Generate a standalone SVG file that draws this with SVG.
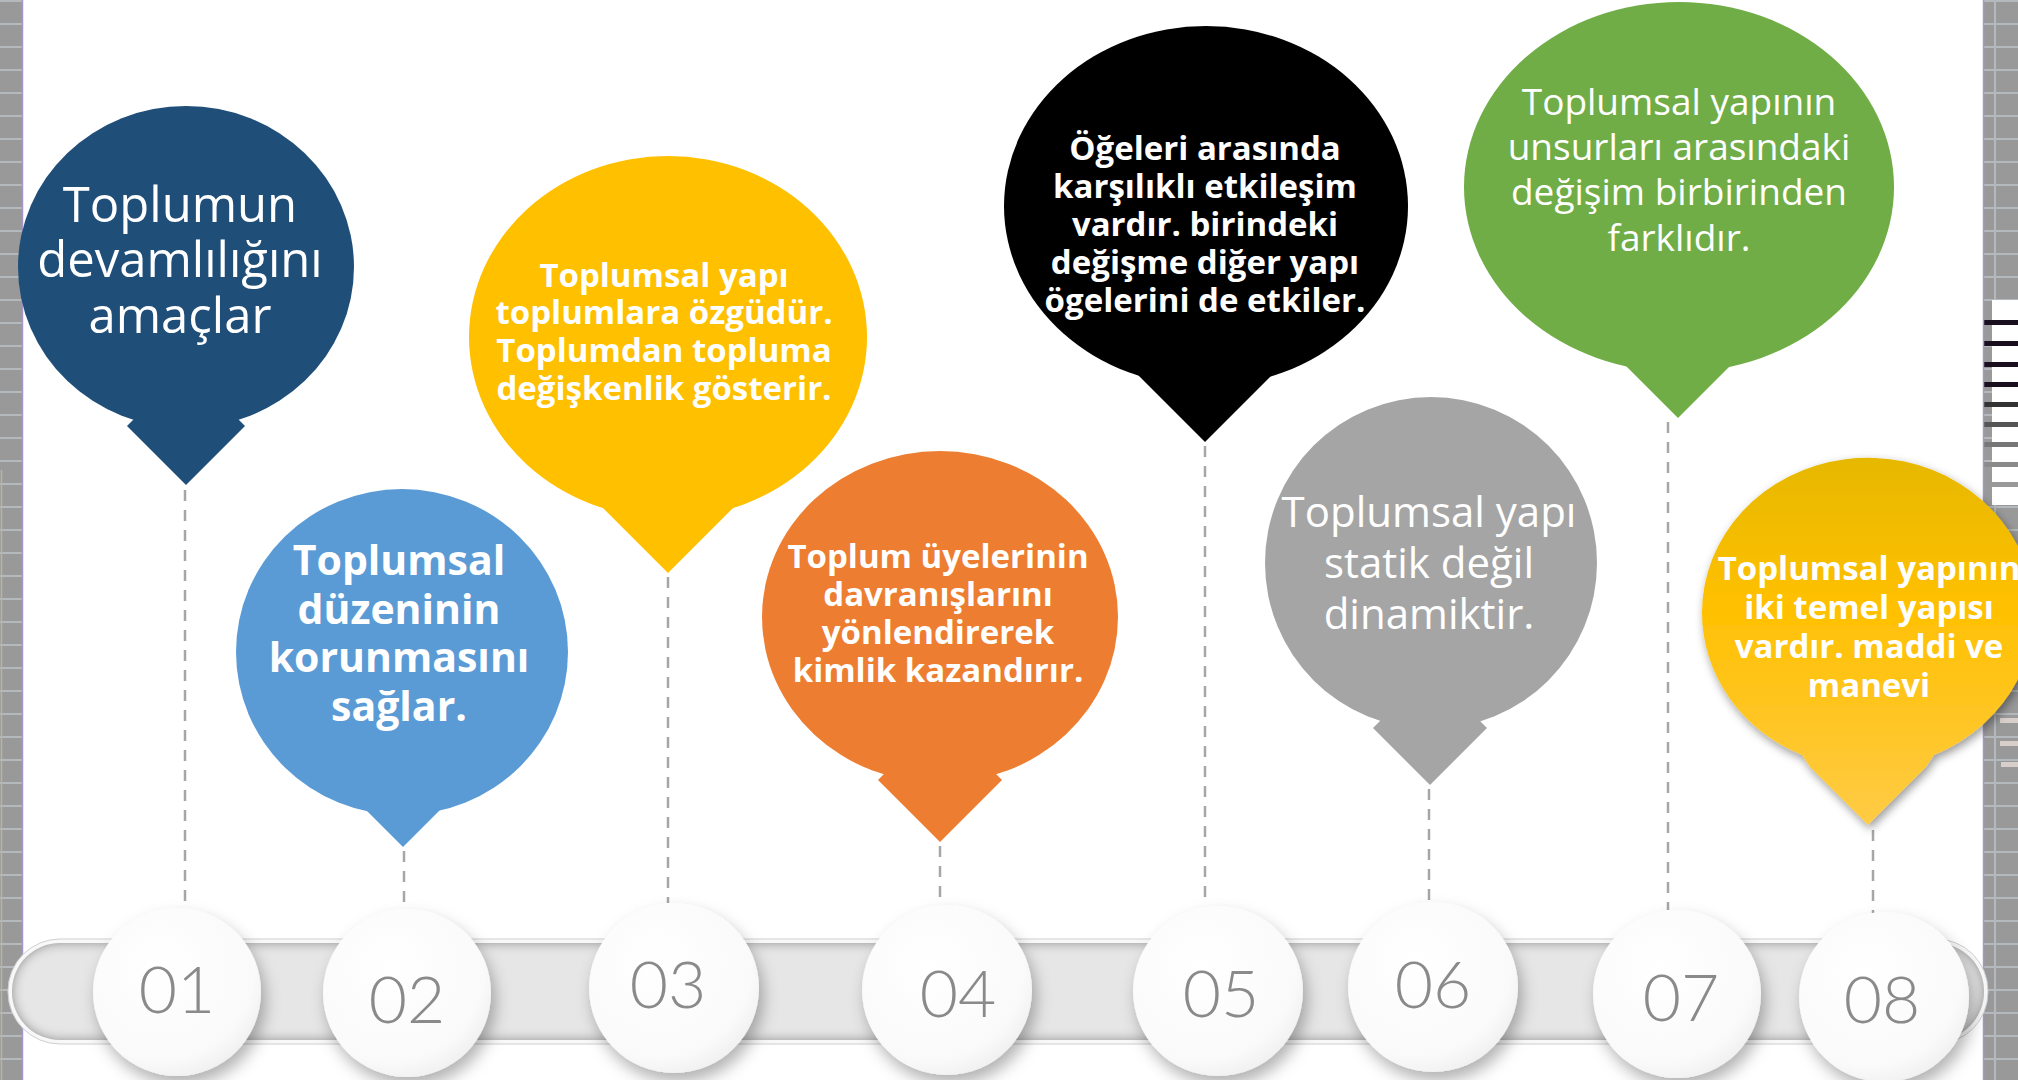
<svg xmlns="http://www.w3.org/2000/svg" width="2018" height="1080" viewBox="0 0 2018 1080">
<defs>
<style>
.t{font-family:"Open Sans","Noto Sans",sans-serif;fill:#fff;text-anchor:middle}
.r{font-weight:400}
.b{font-weight:700}
.num{font-family:"Lato","Open Sans",sans-serif;font-weight:300;fill:#8A8A8A;font-size:66px;text-anchor:middle}
.dash{stroke:#A6A6A6;stroke-width:2.5;stroke-dasharray:11 9;fill:none}
.disc{fill:url(#discG);filter:url(#ds)}
</style>
<pattern id="gridL" width="22" height="23" patternUnits="userSpaceOnUse">
<rect width="22" height="23" fill="#999999"/>
<rect y="0" width="22" height="2" fill="#B3B9BC"/>
</pattern>
<pattern id="gridR" x="1983" width="35" height="23" patternUnits="userSpaceOnUse">
<rect width="35" height="23" fill="#999999"/>
<rect y="0" width="35" height="2" fill="#B3B9BC"/>
<rect x="11" y="0" width="2" height="23" fill="#B3B9BC"/>
</pattern>
<linearGradient id="gold" gradientUnits="userSpaceOnUse" x1="0" y1="458" x2="0" y2="825">
<stop offset="0" stop-color="#E6B800"/>
<stop offset="0.4" stop-color="#FFC000"/>
<stop offset="1" stop-color="#FFCB45"/>
</linearGradient>
<radialGradient id="discG" cx="0.4" cy="0.35" r="0.7">
<stop offset="0" stop-color="#FFFFFF"/>
<stop offset="0.8" stop-color="#FAFAFA"/>
<stop offset="1" stop-color="#EFEFEF"/>
</radialGradient>
<filter id="ds" x="-30%" y="-30%" width="170%" height="170%">
<feDropShadow dx="4" dy="9" stdDeviation="8" flood-color="#000" flood-opacity="0.3"/>
</filter>
<filter id="ds8" x="-20%" y="-20%" width="150%" height="150%">
<feDropShadow dx="2" dy="4" stdDeviation="5" flood-color="#000" flood-opacity="0.4"/>
</filter>
<filter id="inner" x="-5%" y="-20%" width="110%" height="140%">
<feFlood flood-color="#000" flood-opacity="0.75"/>
<feComposite in2="SourceAlpha" operator="out"/>
<feGaussianBlur stdDeviation="6"/>
<feComposite in2="SourceAlpha" operator="in" result="sh"/>
<feMerge><feMergeNode in="SourceGraphic"/><feMergeNode in="sh"/></feMerge>
</filter>
</defs>

<rect width="2018" height="1080" fill="#FFFFFF"/>

<g id="left-strip">
<rect x="0" y="0" width="22" height="1080" fill="url(#gridL)"/>
<line x1="22.5" y1="0" x2="22.5" y2="1080" stroke="#A797C9" stroke-width="1.5"/>
<line x1="1.5" y1="470" x2="1.5" y2="1080" stroke="#BDB59A" stroke-width="1.5"/>
</g>

<g id="right-strip">
<rect x="1983" y="0" width="35" height="1080" fill="url(#gridR)"/>
<rect x="1992" y="300" width="26" height="205" fill="#FFFFFF"/>
<g fill="#1A0F1F">
<rect x="1983" y="320" width="35" height="5"/>
<rect x="1983" y="341" width="35" height="5"/>
<rect x="1983" y="362" width="35" height="5"/>
<rect x="1983" y="382" width="35" height="5"/>
<rect x="1983" y="402" width="35" height="5" fill="#333"/>
<rect x="1983" y="422" width="35" height="5" fill="#555"/>
<rect x="1983" y="442" width="35" height="5" fill="#777"/>
<rect x="1983" y="462" width="35" height="5" fill="#8A8A8A"/>
<rect x="1983" y="482" width="35" height="5" fill="#999"/>
</g>
<g fill="#D8CFCB">
<rect x="2000" y="718" width="18" height="5"/>
<rect x="2000" y="741" width="18" height="5"/>
<rect x="2001" y="762" width="17" height="5"/>
</g>
<line x1="1983.5" y1="0" x2="1983.5" y2="1080" stroke="#A797C9" stroke-width="1.5"/>
</g>

<g id="connectors">
<line class="dash" x1="185" y1="490" x2="185" y2="905"/>
<line class="dash" x1="404" y1="851" x2="404" y2="907"/>
<line class="dash" x1="668" y1="577" x2="668" y2="903"/>
<line class="dash" x1="940" y1="846" x2="940" y2="905"/>
<line class="dash" x1="1205" y1="446" x2="1205" y2="905"/>
<line class="dash" x1="1429" y1="789" x2="1429" y2="903"/>
<line class="dash" x1="1668" y1="422" x2="1668" y2="910"/>
<line class="dash" x1="1873" y1="830" x2="1873" y2="913"/>
</g>

<g id="timeline-bar">
<rect x="8" y="939" width="1980" height="105" rx="52" fill="#F8F8F8" stroke="#CFCFCF" stroke-width="1"/>
<rect x="12" y="943" width="1972" height="97" rx="48" fill="#E6E6E6" filter="url(#inner)"/>
</g>

<g id="bubble-1">
<ellipse cx="186" cy="267" rx="168" ry="161" fill="#1F4E79"/>
<polygon points="186,367 245,426 186,485 127,426" fill="#1F4E79"/>
<text class="t r" font-size="49"><tspan x="180" y="222">Toplumun</tspan><tspan x="180" y="277">devamlılığını</tspan><tspan x="180" y="333">amaçlar</tspan></text>
</g>

<g id="bubble-2">
<ellipse cx="402" cy="652" rx="166" ry="163" fill="#5B9BD5"/>
<polygon points="403,733 460,790 403,847 346,790" fill="#5B9BD5"/>
<text class="t b" font-size="41"><tspan x="399" y="575">Toplumsal</tspan><tspan x="399" y="624">düzeninin</tspan><tspan x="399" y="672">korunmasını</tspan><tspan x="399" y="721">sağlar.</tspan></text>
</g>

<g id="bubble-3">
<ellipse cx="668" cy="337" rx="199" ry="181" fill="#FFC000"/>
<polygon points="668,435 737,504 668,573 599,504" fill="#FFC000"/>
<text class="t b" font-size="33"><tspan x="664" y="287">Toplumsal yapı</tspan><tspan x="664" y="324">toplumlara özgüdür.</tspan><tspan x="664" y="362">Toplumdan topluma</tspan><tspan x="664" y="400">değişkenlik gösterir.</tspan></text>
</g>

<g id="bubble-4">
<ellipse cx="940" cy="617" rx="178" ry="166" fill="#ED7D31"/>
<polygon points="940,718 1002,780 940,842 878,780" fill="#ED7D31"/>
<text class="t b" font-size="33"><tspan x="938" y="568">Toplum üyelerinin</tspan><tspan x="938" y="606">davranışlarını</tspan><tspan x="938" y="644">yönlendirerek</tspan><tspan x="938" y="682">kimlik kazandırır.</tspan></text>
</g>

<g id="bubble-5">
<ellipse cx="1206" cy="206" rx="202" ry="180" fill="#000000"/>
<polygon points="1205,304 1274,373 1205,442 1136,373" fill="#000000"/>
<text class="t b" font-size="33"><tspan x="1205" y="160">Öğeleri arasında</tspan><tspan x="1205" y="198">karşılıklı etkileşim</tspan><tspan x="1205" y="236">vardır. birindeki</tspan><tspan x="1205" y="274">değişme diğer yapı</tspan><tspan x="1205" y="312">ögelerini de etkiler.</tspan></text>
</g>

<g id="bubble-6">
<ellipse cx="1431" cy="563" rx="166" ry="166" fill="#A5A5A5"/>
<polygon points="1430,671 1487,728 1430,785 1373,728" fill="#A5A5A5"/>
<text class="t r" font-size="42"><tspan x="1429" y="527">Toplumsal yapı</tspan><tspan x="1429" y="578">statik değil</tspan><tspan x="1429" y="629">dinamiktir.</tspan></text>
</g>

<g id="bubble-7">
<ellipse cx="1679" cy="187" rx="215" ry="185" fill="#70AD47"/>
<polygon points="1678,270 1752,344 1678,418 1604,344" fill="#70AD47"/>
<text class="t r" font-size="37"><tspan x="1679" y="115">Toplumsal yapının</tspan><tspan x="1679" y="160">unsurları arasındaki</tspan><tspan x="1679" y="205">değişim birbirinden</tspan><tspan x="1679" y="251">farklıdır.</tspan></text>
</g>

<g id="bubble-8">
<path d="M1702,613 A166,155 0 1 1 1934,755 L1926,767 L1868,825 L1810,767 L1802,755 A166,155 0 0 1 1702,613 Z" fill="url(#gold)" filter="url(#ds8)"/>
<text class="t b" font-size="33"><tspan x="1869" y="580">Toplumsal yapının</tspan><tspan x="1869" y="619">iki temel yapısı</tspan><tspan x="1869" y="658">vardır. maddi ve</tspan><tspan x="1869" y="697">manevi</tspan></text>
</g>

<g id="step-01"><circle class="disc" cx="177" cy="992" r="84"/><text class="num" x="177" y="1013">01</text></g>
<g id="step-02"><circle class="disc" cx="407" cy="993" r="84"/><text class="num" x="407" y="1023">02</text></g>
<g id="step-03"><circle class="disc" cx="674" cy="988" r="85"/><text class="num" x="668" y="1008">03</text></g>
<g id="step-04"><circle class="disc" cx="947" cy="990" r="85"/><text class="num" x="958" y="1017">04</text></g>
<g id="step-05"><circle class="disc" cx="1218" cy="991" r="85"/><text class="num" x="1221" y="1017">05</text></g>
<g id="step-06"><circle class="disc" cx="1433" cy="987" r="85"/><text class="num" x="1433" y="1008">06</text></g>
<g id="step-07"><circle class="disc" cx="1677" cy="994" r="84"/><text class="num" x="1681" y="1021">07</text></g>
<g id="step-08"><circle class="disc" cx="1884" cy="997" r="85"/><text class="num" x="1882" y="1023">08</text></g>
</svg>
